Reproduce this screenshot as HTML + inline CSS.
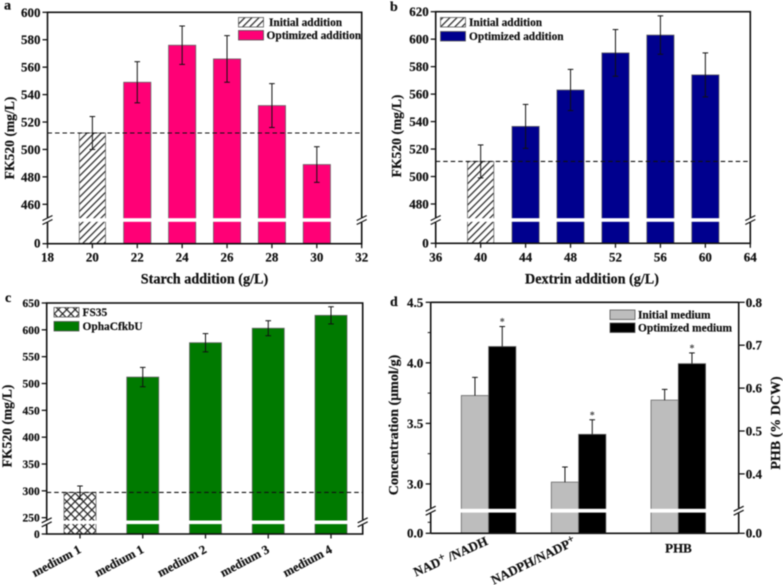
<!DOCTYPE html>
<html lang="en">
<head>
<meta charset="utf-8">
<title>FK520 production charts</title>
<style>
html,body{margin:0;padding:0;background:#fff;}
svg{display:block;font-family:"Liberation Serif",serif;font-weight:bold;fill:#111;filter:blur(0.4px);}
text{stroke:#111;stroke-width:0.2px;}
</style>
</head>
<body>
<svg id="figure" width="783" height="585" viewBox="0 0 783 585" xmlns="http://www.w3.org/2000/svg">
<defs>
<pattern id="hatch-diag" patternUnits="userSpaceOnUse" width="5" height="5" patternTransform="rotate(45)">
<rect width="5" height="5" fill="#fff"/><rect x="0" width="1.2" height="5" fill="#222"/>
</pattern>
<pattern id="hatch-cross" patternUnits="userSpaceOnUse" width="5.9" height="5.9" patternTransform="rotate(45)">
<rect width="5.9" height="5.9" fill="#fff"/><rect width="1.2" height="5.9" fill="#222"/><rect width="5.9" height="1.2" fill="#222"/>
</pattern>
</defs>
</svg>
<script>
// Panel a
const aCategories = ['20', '22', '24', '26', '28', '30'];
const aPositions = [20, 22, 24, 26, 28, 30];
const aValues = [512, 549, 576, 566, 532, 489];
const aErrors = [12, 15, 14, 17, 16, 13];
const aXTicks = [18, 20, 22, 24, 26, 28, 30, 32];
const aYTicks = [460, 480, 500, 520, 540, 560, 580, 600];
// Panel b
const bPositions = [40, 44, 48, 52, 56, 60];
const bValues = [511, 536.5, 563, 590, 603, 574];
const bErrors = [12, 16, 15, 17, 14, 16];
const bXTicks = [36, 40, 44, 48, 52, 56, 60, 64];
const bYTicks = [480, 500, 520, 540, 560, 580, 600, 620];
// Panel c
const cCategories = ['medium 1', 'medium 1', 'medium 2', 'medium 3', 'medium 4'];
const cValues = [297, 512, 576, 603, 627];
const cErrors = [12, 18, 17, 14, 16];
const cYTicks = [250, 300, 350, 400, 450, 500, 550, 600, 650];
// Panel d
const dCategories = ['NAD+/NADH', 'NADPH/NADP+', 'PHB'];
const dInitial = [3.73, 3.015];
const dOptimized = [4.135, 3.41];
const dInitialErr = [0.15, 0.125];
const dOptimizedErr = [0.165, 0.12];
const dPhbInitial = 0.572;
const dPhbOptimized = 0.657;
const dPhbInitialErr = 0.025;
const dPhbOptimizedErr = 0.025;
const dLeftTicks = [3.0, 3.5, 4.0, 4.5];
const dRightTicks = [0.4, 0.5, 0.6, 0.7, 0.8];

const NS = 'http://www.w3.org/2000/svg';
const root = document.getElementById('figure');

function make(parent, tag, props, name, text) {
  const node = document.createElementNS(NS, tag);
  for (const k in props) node.setAttribute(k, props[k]);
  
  
  if (text !== undefined) node.textContent = text;
  parent.appendChild(node);
  return node;
}
function line(p, x1, y1, x2, y2, w, name, extra) {
  return make(p, 'line', Object.assign({x1, y1, x2, y2, stroke: '#111', 'stroke-width': w}, extra || {}), name);
}
function label(p, x, y, str, size, anchor, name, extra) {
  return make(p, 'text', Object.assign({x, y, 'font-size': size, 'text-anchor': anchor}, extra || {}), name, str);
}
function group(name) {
  return make(root, 'g', {}, name);
}
// broken y-axis: linear above the break, compressed below it
function brokenY(refV, refY, k, breakV, breakY, bottom) {
  return function (v) {
    return v >= breakV ? refY - (v - refV) * k : bottom - (v / breakV) * (bottom - breakY);
  };
}
function frame(g, L, R, T, B, w) {
  make(g, 'rect', {x: L, y: T, width: R - L, height: B - T, fill: 'none', stroke: '#111', 'stroke-width': w}, 'plot-frame');
}
function axisBreak(g, x, y, name) {
  make(g, 'rect', {x: x - 3, y: y - 2.5, width: 6, height: 5, fill: '#fff'}, name + '-gap');
  line(g, x - 5, y + 0.5, x + 5, y - 4.5, 1.2, name + '-mark');
  line(g, x - 5, y + 4.5, x + 5, y - 0.5, 1.2, name + '-mark');
}
function bar(g, cx, w, topY, B, fill, name) {
  make(g, 'rect', {x: cx - w / 2, y: topY, width: w, height: B - topY, fill, stroke: '#666', 'stroke-width': 0.8}, name);
}
function gapStripe(g, cx, w, y, h, name) {
  make(g, 'rect', {x: cx - w / 2 - 1, y: y - h / 2, width: w + 2, height: h, fill: '#fff'}, name);
}
function errBar(g, cx, yTop, yBot, name) {
  line(g, cx, yTop, cx, yBot, 1, name);
  line(g, cx - 2.8, yTop, cx + 2.8, yTop, 1, name + '-cap');
  if (yBot !== yTop) line(g, cx - 2.8, yBot, cx + 2.8, yBot, 1, name + '-cap');
}
function legendRow(g, x, y, w, h, fill, tx, str, name) {
  make(g, 'rect', {x, y, width: w, height: h, fill, stroke: '#555', 'stroke-width': 0.8}, name + '-swatch');
  label(g, tx, y + h - 1, str, 11.4, 'start', name + '-label');
}

function additionPanel(cfg) {
  const g = group(cfg.name);
  const x = v => cfg.L + (v - cfg.xMin) / (cfg.xMax - cfg.xMin) * (cfg.R - cfg.L);
  const y = brokenY(cfg.refV, cfg.refY, cfg.k, cfg.breakV, cfg.breakY, cfg.B);
  cfg.pos.forEach((p, i) => {
    const fill = i === 0 ? 'url(#hatch-diag)' : cfg.color;
    const w = i === 0 ? 26.3 : 27.2;
    bar(g, x(p), w, y(cfg.vals[i]), cfg.B, fill, 'bar-' + p);
    gapStripe(g, x(p), w, cfg.breakY, 3.6, 'bar-break-' + p);
  });
  frame(g, cfg.L, cfg.R, cfg.T, cfg.B, 1.6);
  line(g, cfg.L, y(cfg.vals[0]), cfg.R, y(cfg.vals[0]), 1.1, 'reference-line', {'stroke-dasharray': '4.5 3'});
  cfg.pos.forEach((p, i) => {
    errBar(g, x(p), y(cfg.vals[i] + cfg.errs[i]), y(cfg.vals[i] - cfg.errs[i]), 'error-bar-' + p);
  });
  cfg.yTicks.forEach(t => {
    line(g, cfg.L - 5, y(t), cfg.L, y(t), 1.3, 'y-tick-' + t);
    label(g, cfg.L - 7, y(t) + 4.5, t, 13, 'end', 'y-tick-label-' + t);
  });
  line(g, cfg.L - 5, cfg.B, cfg.L, cfg.B, 1.3, 'y-tick-0');
  label(g, cfg.L - 7, cfg.B + 4, 0, 13, 'end', 'y-tick-label-0');
  cfg.xTicks.forEach(t => {
    line(g, x(t), cfg.B, x(t), cfg.B + 4.5, 1.3, 'x-tick-' + t);
    label(g, x(t), cfg.B + 18, t, 13, 'middle', 'x-tick-label-' + t);
  });
  axisBreak(g, cfg.L, cfg.breakY, 'left-axis-break');
  axisBreak(g, cfg.R, cfg.breakY, 'right-axis-break');
  label(g, (cfg.titleX), cfg.B + 40, cfg.xTitle, 14.2, 'middle', 'x-axis-title');
  label(g, 0, 0, 'FK520 (mg/L)', 13.6, 'middle', 'y-axis-title', {transform: `translate(${cfg.yTitleX},${cfg.yTitleY}) rotate(-90)`});
  label(g, cfg.letterX, cfg.letterY, cfg.letter, 14, 'start', 'panel-letter');
  legendRow(g, cfg.lx1, cfg.ly1, 25, 9.5, 'url(#hatch-diag)', cfg.ltx1, 'Initial addition', 'legend-initial');
  legendRow(g, cfg.lx1, cfg.ly2, 25, 9.5, cfg.color, cfg.ltx2, 'Optimized addition', 'legend-optimized');
}

additionPanel({name: 'panel-a', letter: 'a', letterX: 4, letterY: 9.5, L: 47.5, R: 361.7, T: 12.3, B: 243.7,
  xMin: 18, xMax: 32, refV: 600, refY: 12.3, k: 1.3715, breakV: 450, breakY: 220,
  pos: aPositions, vals: aValues, errs: aErrors, xTicks: aXTicks, yTicks: aYTicks, color: '#ff0076',
  xTitle: 'Starch addition (g/L)', titleX: 204.5, yTitleX: 14, yTitleY: 138,
  lx1: 238.5, ly1: 17.5, ly2: 30.5, ltx1: 269, ltx2: 266.5});

additionPanel({name: 'panel-b', letter: 'b', letterX: 390, letterY: 11, L: 435.7, R: 750.3, T: 11.7, B: 243.3,
  xMin: 36, xMax: 64, refV: 620, refY: 11.7, k: 1.3735, breakV: 470, breakY: 220,
  pos: bPositions, vals: bValues, errs: bErrors, xTicks: bXTicks, yTicks: bYTicks, color: '#00008e',
  xTitle: 'Dextrin addition (g/L)', titleX: 592, yTitleX: 401, yTitleY: 136,
  lx1: 440.5, ly1: 17.5, ly2: 31.5, ltx1: 469, ltx2: 469});

(function panelC() {
  const g = group('panel-c');
  const L = 46.7, R = 362.7, T = 303, B = 534, breakY = 522.3;
  const y = brokenY(650, 303, 0.5367, 240, breakY, B);
  const x = i => 80 + i * 62.75;
  cValues.forEach((v, i) => {
    const fill = i === 0 ? 'url(#hatch-cross)' : '#007a00';
    bar(g, x(i), 32, y(v), B, fill, 'bar-' + i);
    gapStripe(g, x(i), 32, breakY, 3.6, 'bar-break-' + i);
  });
  frame(g, L, R, T, B, 1.6);
  line(g, L, y(cValues[0]), R, y(cValues[0]), 1.1, 'reference-line', {'stroke-dasharray': '4.5 3'});
  cValues.forEach((v, i) => {
    errBar(g, x(i), y(v + cErrors[i]), y(v - cErrors[i]), 'error-bar-' + i);
  });
  cYTicks.forEach(t => {
    line(g, L - 5, y(t), L, y(t), 1.3, 'y-tick-' + t);
    label(g, L - 7, y(t) + 4, t, 11.5, 'end', 'y-tick-label-' + t);
  });
  line(g, L - 5, B, L, B, 1.3, 'y-tick-0');
  label(g, L - 7, B + 4, 0, 11.5, 'end', 'y-tick-label-0');
  cCategories.forEach((c, i) => {
    line(g, x(i), B, x(i), B + 4.5, 1.3, 'x-tick-' + i);
    label(g, 0, 0, c, 12.6, 'end', 'x-tick-label-' + i, {transform: `translate(${x(i) + 2},${B + 18}) rotate(-28)`});
  });
  axisBreak(g, L, breakY, 'left-axis-break');
  axisBreak(g, R, breakY, 'right-axis-break');
  label(g, 0, 0, 'FK520 (mg/L)', 13.6, 'middle', 'y-axis-title', {transform: 'translate(11.5,426) rotate(-90)'});
  label(g, 5, 302, 'c', 14, 'start', 'panel-letter');
  legendRow(g, 54, 307.5, 25, 9.5, 'url(#hatch-cross)', 82.5, 'FS35', 'legend-fs35');
  legendRow(g, 54, 321.5, 25, 9.5, '#007a00', 82.5, 'OphaCfkbU', 'legend-ophacfkbu');
})();

(function panelD() {
  const g = group('panel-d');
  const L = 430.7, R = 738.7, T = 302.3, B = 533.3, breakY = 510.7;
  const yL = brokenY(4.5, T, 121.1, 2.8, breakY, B);
  const yR = brokenY(0.8, T, 429, 0.3, breakY, B);
  const w = 27.3;
  const centers = [488.6, 578.6, 678.3];
  const rows = [
    {c: centers[0], v: dInitial[0], o: dOptimized[0], ve: dInitialErr[0], oe: dOptimizedErr[0], y: yL},
    {c: centers[1], v: dInitial[1], o: dOptimized[1], ve: dInitialErr[1], oe: dOptimizedErr[1], y: yL},
    {c: centers[2], v: dPhbInitial, o: dPhbOptimized, ve: dPhbInitialErr, oe: dPhbOptimizedErr, y: yR}
  ];
  rows.forEach((r, i) => {
    bar(g, r.c - w / 2, w, r.y(r.v), B, '#bdbdbd', 'bar-initial-' + i);
    bar(g, r.c + w / 2, w, r.y(r.o), B, '#000', 'bar-optimized-' + i);
    gapStripe(g, r.c, w * 2, breakY, 3.8, 'bar-break-' + i);
    line(g, r.c - w / 2, r.y(r.v), r.c - w / 2, r.y(r.v + r.ve), 1, 'error-bar-initial-' + i);
    line(g, r.c - w / 2 - 2.8, r.y(r.v + r.ve), r.c - w / 2 + 2.8, r.y(r.v + r.ve), 1, 'error-cap-initial-' + i);
    line(g, r.c + w / 2, r.y(r.o), r.c + w / 2, r.y(r.o + r.oe), 1, 'error-bar-optimized-' + i);
    line(g, r.c + w / 2 - 2.8, r.y(r.o + r.oe), r.c + w / 2 + 2.8, r.y(r.o + r.oe), 1, 'error-cap-optimized-' + i);
    label(g, r.c + w / 2, r.y(r.o + r.oe) - 1.5, '*', 10, 'middle', 'significance-star-' + i, {fill: '#444', style: 'stroke:none'});
  });
  line(g, L, T, R, T, 1.6, 'top-axis');
  line(g, L, B, R, B, 1.6, 'bottom-axis');
  line(g, L, T, L, B, 1.6, 'left-axis');
  line(g, R, T, R, B, 1.6, 'right-axis');
  dLeftTicks.forEach(t => {
    line(g, L - 5, yL(t), L, yL(t), 1.3, 'left-tick-' + t);
    if (t < 4.5) line(g, L - 3, yL(t + 0.25), L, yL(t + 0.25), 1, 'left-minor-tick-' + t);
    label(g, L - 7.5, yL(t) + 4.5, t.toFixed(1), 13, 'end', 'left-tick-label-' + t);
  });
  line(g, L - 5, B, L, B, 1.3, 'left-tick-0');
  line(g, L - 3, B - 11, L, B - 11, 1, 'left-minor-tick-0');
  label(g, L - 7.5, B + 4, '0.0', 13, 'end', 'left-tick-label-0');
  dRightTicks.forEach(t => {
    line(g, R, yR(t), R + 6, yR(t), 1.3, 'right-tick-' + t);
    label(g, R + 7, yR(t) + 4.5, t.toFixed(1), 13, 'start', 'right-tick-label-' + t);
  });
  line(g, R, B, R + 6, B, 1.3, 'right-tick-0');
  label(g, R + 7, B + 4, '0.0', 13, 'start', 'right-tick-label-0');
  axisBreak(g, L, breakY, 'left-axis-break');
  axisBreak(g, R, breakY, 'right-axis-break');

  const nad = label(g, 0, 0, '', 13, 'end', 'x-tick-label-nad', {transform: `translate(${centers[0]},${B + 11}) rotate(-24)`});
  make(nad, 'tspan', {}, 'nad-text', 'NAD');
  make(nad, 'tspan', {dy: -4, 'font-size': 11}, 'nad-superscript', '+');
  make(nad, 'tspan', {dy: 4}, 'nadh-text', ' /NADH');
  const nadp = label(g, 0, 0, '', 13, 'end', 'x-tick-label-nadp', {transform: `translate(${centers[1] - 2},${B + 11}) rotate(-26)`});
  make(nadp, 'tspan', {}, 'nadp-text', 'NADPH/NADP');
  make(nadp, 'tspan', {dy: -4, 'font-size': 11}, 'nadp-superscript', '+');
  label(g, 678.5, B + 19, dCategories[2], 13, 'middle', 'x-tick-label-phb');

  label(g, 0, 0, 'Concentration (μmol/g)', 14, 'middle', 'left-axis-title', {transform: 'translate(398,425) rotate(-90)'});
  label(g, 0, 0, 'PHB (% DCW)', 14, 'middle', 'right-axis-title', {transform: 'translate(780,423) rotate(-90)'});
  label(g, 390, 306, 'd', 14, 'start', 'panel-letter');
  legendRow(g, 610, 310, 25, 9.5, '#bdbdbd', 638, 'Initial medium', 'legend-initial');
  legendRow(g, 610, 323, 25, 9.5, '#000', 638, 'Optimized medium', 'legend-optimized');
})();
</script>
</body>
</html>
